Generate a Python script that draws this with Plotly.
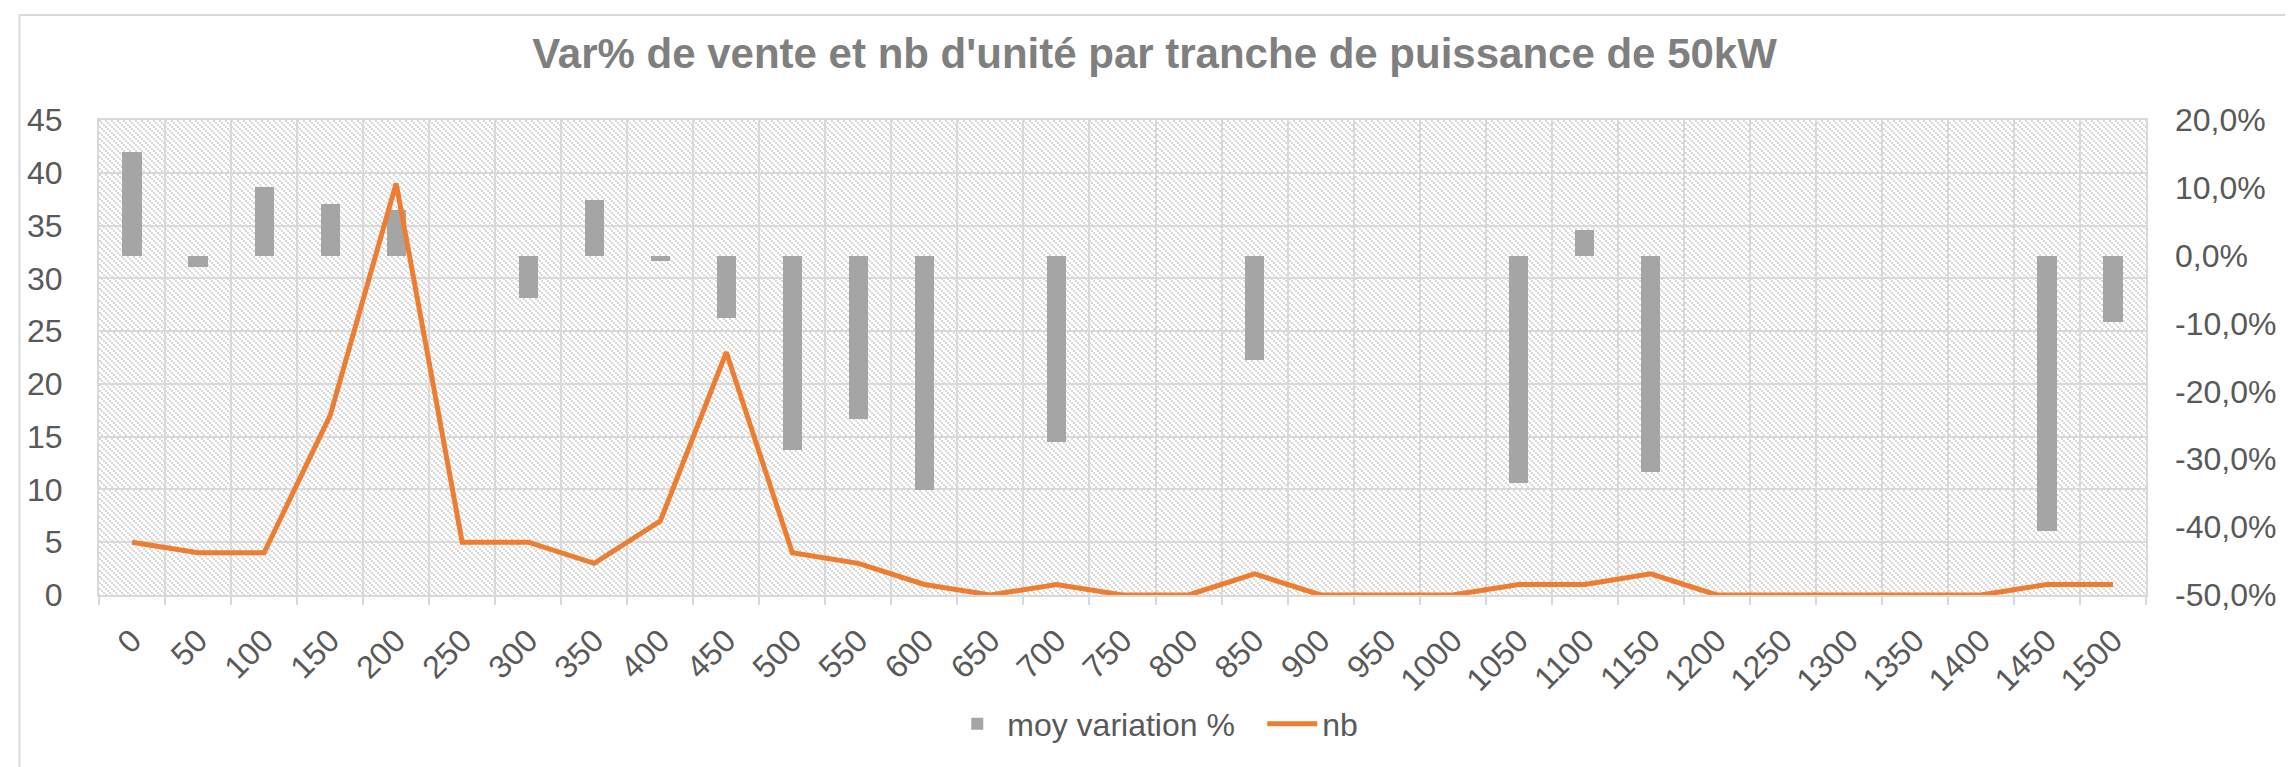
import base64
import plotly.graph_objects as go

# ---------------- data ----------------
categories = [str(v) for v in range(0, 1501, 50)]
moy_variation = [0.153, -0.017, 0.101, 0.076, 0.067, None, -0.062, 0.082, -0.0075, -0.092,
                 -0.287, -0.241, -0.345, None, -0.275, None, None, -0.153, None, None,
                 None, -0.335, 0.038, -0.319, None, None, None, None, None, -0.406, -0.097]
nb = [5, 4, 4, 17, 39, 5, 5, 3, 7, 23, 4, 3, 1, 0, 1, 0, 0, 2, 0, 0,
      0, 1, 1, 2, 0, 0, 0, 0, 0, 1, 1]
right_tickvals = [-0.5, -0.4, -0.3, -0.2, -0.1, 0.0, 0.1, 0.2]
right_ticktext = ["-50,0%", "-40,0%", "-30,0%", "-20,0%", "-10,0%", "0,0%", "10,0%", "20,0%"]
title_text = "Var% de vente et nb d'unité par tranche de puissance de 50kW"

# ---------------- layout constants ----------------
W, H = 2293, 767
ML, MR, MT, MB = 91, 155, 112, 180
PW, PH = W - ML - MR, H - MT - MB
FONT = "Liberation Sans, Arial, sans-serif"
GRID = "#d9d9d9"
TXT = "#595959"

# background hatch pattern (Excel-like pattern fill) as an SVG image
svg = (
    f"<svg xmlns='http://www.w3.org/2000/svg' width='{PW}' height='{PH}' shape-rendering='crispEdges'>"
    "<defs><pattern id='p' width='6' height='6' patternUnits='userSpaceOnUse'>"
    "<rect x='0' y='0' width='2' height='2' fill='#d8d8d8'/>"
    "<rect x='2' y='2' width='2' height='2' fill='#d8d8d8'/>"
    "<rect x='4' y='4' width='2' height='2' fill='#d8d8d8'/>"
    "</pattern></defs><rect width='100%' height='100%' fill='url(#p)'/></svg>"
)
svg_uri = "data:image/svg+xml;base64," + base64.b64encode(svg.encode()).decode()

fig = go.Figure()

fig.add_trace(go.Bar(
    x=categories, y=moy_variation, name="moy variation %",
    marker=dict(color="#a5a5a5", line=dict(width=0)),
    width=0.29, xaxis="x", yaxis="y",
))
fig.add_trace(go.Scatter(
    x=categories, y=nb, name="nb", mode="lines",
    line=dict(color="#ed7d31", width=5),
    cliponaxis=False, xaxis="x", yaxis="y2",
))

fig.update_layout(
    width=W, height=H,
    margin=dict(l=ML, r=MR, t=MT, b=MB, autoexpand=False),
    paper_bgcolor="white", plot_bgcolor="white",
    separators=", ",
    font=dict(family=FONT, size=32, color=TXT),
    title=dict(text=f"<b>{title_text}</b>", x=0.5, xref="container", xanchor="center",
               y=1 - 45 / H, yref="container", yanchor="middle",
               font=dict(family=FONT, size=42, color="#7f7f7f")),
    bargap=0,
    xaxis=dict(type="category", categoryorder="array", categoryarray=categories,
               tickson="boundaries", showgrid=True, gridcolor=GRID, gridwidth=2,
               ticks="outside", ticklen=8, tickwidth=2, tickcolor=GRID,
               showline=True, linecolor=GRID, linewidth=2, mirror=True,
               tickangle=-45, tickfont=dict(size=32, color=TXT),
               ticklabelstandoff=12, zeroline=False),
    yaxis=dict(side="right", range=[-0.5, 0.2], tickvals=right_tickvals, ticktext=right_ticktext,
               showgrid=False, zeroline=False, showline=False, ticks="",
               tickfont=dict(size=32, color=TXT), ticklabelstandoff=28),
    yaxis2=dict(side="left", overlaying="y", range=[0, 45], dtick=5, tick0=0,
                showgrid=True, gridcolor=GRID, gridwidth=2, zeroline=False,
                showline=True, linecolor=GRID, linewidth=2, mirror=True, ticks="",
                tickfont=dict(size=32, color=TXT), ticklabelstandoff=28),
    legend=dict(orientation="h", x=0.547, xref="container", xanchor="center",
                y=1 - 716 / H, yref="container", yanchor="middle",
                font=dict(size=32, color=TXT), bgcolor="rgba(0,0,0,0)",
                itemwidth=50, entrywidth=250, traceorder="normal"),
    images=[dict(source=svg_uri, xref="paper", yref="paper", x=0, y=1,
                 sizex=1, sizey=1, xanchor="left", yanchor="top",
                 sizing="stretch", layer="below")],
    shapes=[dict(type="rect", xref="paper", yref="paper",
                 x0=(11.5 - ML) / PW, x1=(2284 - ML) / PW,
                 y0=-(766 - (MT + PH)) / PH, y1=1 + (MT - 7) / PH,
                 line=dict(color=GRID, width=2), fillcolor="rgba(0,0,0,0)", layer="below")],
    showlegend=True,
)

fig.write_html("out.html")
